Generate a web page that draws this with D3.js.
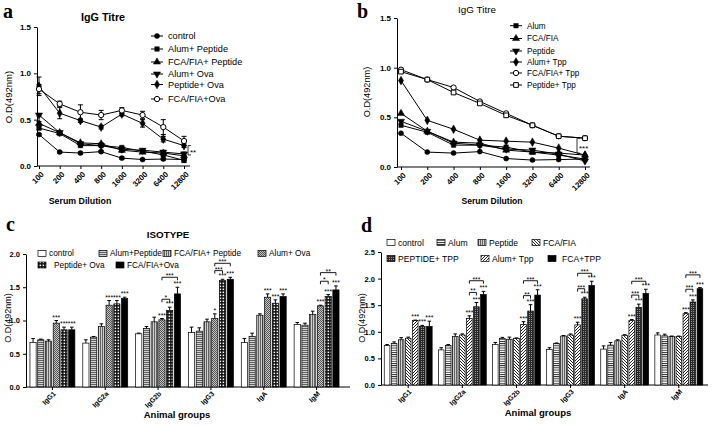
<!DOCTYPE html>
<html><head><meta charset="utf-8">
<script src="https://cdn.jsdelivr.net/npm/d3@7"></script>
<style>body{margin:0;background:#fff} svg text{font-family:"Liberation Sans",Arial,sans-serif}</style>
</head><body><svg id="c" width="713" height="425"></svg>
<script>
// ---------- DATA ----------
const dilutions = ["100","200","400","800","1600","3200","6400","12800"];
const yTicksLine = [0, 0.5, 1.0, 1.5];

// panel a
const aNames = ["control","Alum+ Peptide","FCA/FIA+ Peptide","Alum+ Ova","Peptide+ Ova","FCA/FIA+Ova"];
const aControl      = [0.34,0.15,0.14,0.155,0.085,0.07,0.075,0.07];
const aAlumPeptide  = [0.41,0.35,0.22,0.22,0.20,0.16,0.12,0.06];
const aFcaPeptide   = [0.46,0.36,0.25,0.24,0.17,0.15,0.14,0.11];
const aAlumOva      = [0.55,0.36,0.24,0.22,0.18,0.17,0.15,0.13];
const aPeptideOva   = [0.86,0.57,0.49,0.42,0.56,0.46,0.29,0.22];
const aFcaOva       = [0.83,0.67,0.58,0.55,0.60,0.55,0.42,0.27];
const aControlErr     = [0.01,0.01,0.01,0.01,0.01,0.01,0.01,0.01];
const aAlumPeptideErr = [0.02,0.01,0.01,0.01,0.01,0.01,0.01,0.02];
const aFcaPeptideErr  = [0.02,0.01,0.01,0.01,0.02,0.01,0.01,0.02];
const aAlumOvaErr     = [0.01,0.01,0.01,0.01,0.01,0.01,0.01,0.02];
const aPeptideOvaErr  = [0.10,0.06,0.02,0.02,0.02,0.04,0.03,0.02];
const aFcaOvaErr      = [0.05,0.03,0.08,0.05,0.03,0.04,0.08,0.05];

// panel b
const bNames = ["Alum","FCA/FIA","Peptide","Alum+ Tpp","FCA/FIA+ Tpp","Peptide+ Tpp"];
const bControl    = [0.34,0.15,0.14,0.155,0.085,0.07,0.075,0.08];
const bAlum       = [0.42,0.35,0.22,0.22,0.20,0.15,0.12,0.08];
const bFca        = [0.54,0.36,0.25,0.24,0.17,0.15,0.14,0.12];
const bPeptide    = [0.46,0.36,0.24,0.22,0.18,0.17,0.13,0.06];
const bAlumTpp    = [0.87,0.47,0.38,0.27,0.26,0.25,0.19,0.12];
const bFcaTpp     = [0.98,0.88,0.80,0.66,0.54,0.42,0.31,0.29];
const bPeptideTpp = [0.96,0.88,0.75,0.64,0.52,0.42,0.31,0.29];

// panels c and d
const isotypes = ["IgG1","IgG2a","IgG2b","IgG3","IgA","IgM"];
const cNames = ["control","Alum+Peptide","FCA/FIA+ Peptide","Alum+ Ova","Peptide+ Ova","FCA/FIA+Ova"];
const cControl     = [0.67,0.66,0.80,0.82,0.67,0.94];
const cAlumPeptide = [0.71,0.75,0.88,0.84,0.76,0.93];
const cFcaPeptide  = [0.69,0.91,0.98,0.98,1.08,1.09];
const cAlumOva     = [0.96,1.23,1.01,1.03,1.35,1.22];
const cPeptideOva  = [0.86,1.25,1.15,1.60,1.26,1.36];
const cFcaOva      = [0.86,1.33,1.40,1.62,1.36,1.46];
const cControlErr     = [0.06,0.05,0.01,0.08,0.06,0.03];
const cAlumPeptideErr = [0.01,0.01,0.03,0.05,0.05,0.03];
const cFcaPeptideErr  = [0.02,0.04,0.07,0.04,0.02,0.05];
const cAlumOvaErr     = [0.04,0.07,0.02,0.07,0.05,0.01];
const cPeptideOvaErr  = [0.04,0.05,0.05,0.02,0.05,0.03];
const cFcaOvaErr      = [0.04,0.02,0.10,0.03,0.04,0.06];
const cAlumOvaStars    = ["***","***","***","*","***","***"];
const cPeptideOvaStars = ["***","***","***","***","***","***"];
const cFcaOvaStars     = ["***","***","***","***","***","***"];
const cBrackets = [
  {g:"IgG2b", from:3, to:5, v:1.65, t:"***"}, {g:"IgG2b", from:3, to:4, v:1.32, t:"*"},
  {g:"IgG3",  from:3, to:5, v:1.86, t:"***"}, {g:"IgG3",  from:3, to:4, v:1.75, t:"***"},
  {g:"IgM",   from:3, to:5, v:1.72, t:"**"},  {g:"IgM",   from:3, to:4, v:1.59, t:"*"}
];

const dNames = ["control","Alum","Peptide","FCA/FIA","Alum+ Tpp","PEPTIDE+ TPP","FCA+TPP"];
const dControl    = [0.74,0.66,0.76,0.67,0.675,0.94];
const dAlum       = [0.78,0.74,0.875,0.78,0.75,0.925];
const dPeptide    = [0.85,0.91,0.86,0.92,0.83,0.91];
const dFca        = [0.88,0.94,0.875,0.94,0.935,0.91];
const dAlumTpp    = [1.21,1.25,1.14,1.13,1.21,1.34];
const dPeptideTpp = [1.10,1.47,1.39,1.62,1.46,1.56];
const dFcaTpp     = [1.10,1.70,1.69,1.87,1.72,1.81];
const dControlErr    = [0.02,0.04,0.04,0.03,0.06,0.04];
const dAlumErr       = [0.03,0.02,0.02,0.01,0.05,0.03];
const dPeptideErr    = [0.04,0.05,0.04,0.01,0.02,0.01];
const dFcaErr        = [0.02,0.02,0.01,0.02,0.01,0.01];
const dAlumTppErr    = [0.01,0.05,0.05,0.05,0.02,0.02];
const dPeptideTppErr = [0.02,0.08,0.12,0.03,0.06,0.04];
const dFcaTppErr     = [0.10,0.06,0.10,0.08,0.08,0.02];
const dStars = ["***","***","***","***","***","***"];
const dBrackets = [
  {g:"IgG2a", from:4, to:5, v:1.74, t:"**"},  {g:"IgG2a", from:4, to:6, v:1.96, t:"***"},
  {g:"IgG2b", from:4, to:5, v:1.68, t:"**"},  {g:"IgG2b", from:4, to:6, v:1.96, t:"***"},
  {g:"IgG3",  from:4, to:5, v:1.81, t:"***"}, {g:"IgG3",  from:4, to:6, v:2.10, t:"***"},
  {g:"IgA",   from:4, to:5, v:1.69, t:"***"}, {g:"IgA",   from:4, to:6, v:1.95, t:"***"},
  {g:"IgM",   from:4, to:5, v:1.80, t:"***"}, {g:"IgM",   from:4, to:6, v:2.07, t:"***"}
];

// ---------- DRAW ----------
const svg = d3.select("#c");
const defs = svg.append("defs");
function pat(id, w, h, bg, draw) {
  const p = defs.append("pattern").attr("id", id).attr("patternUnits","userSpaceOnUse")
    .attr("width", w).attr("height", h);
  p.append("rect").attr("width", w).attr("height", h).attr("fill", bg);
  draw(p);
}
pat("hGray", 4, 2, "#cfcfcf", p => p.append("rect").attr("width",4).attr("height",0.9).attr("fill","#555"));
pat("vGray", 2, 4, "#cfcfcf", p => p.append("rect").attr("width",0.9).attr("height",4).attr("fill","#555"));
pat("dots", 2, 2, "#c4c4c4", p => { p.append("rect").attr("width",1).attr("height",1).attr("fill","#555");
  p.append("rect").attr("x",1).attr("y",1).attr("width",1).attr("height",1).attr("fill","#555"); });
pat("checker", 3, 3, "#111", p => p.append("rect").attr("x",0.6).attr("y",0.6).attr("width",1.5).attr("height",1.5).attr("fill","#fff"));
pat("hLine", 4, 2.2, "#fff", p => p.append("rect").attr("width",4).attr("height",0.9).attr("fill","#222"));
pat("diagB", 3, 3, "#fff", p => p.append("path").attr("d","M0,0L3,3M-1,2L1,4M2,-1L4,1").attr("stroke","#111").attr("stroke-width",0.9));
pat("diagF", 3, 3, "#fff", p => p.append("path").attr("d","M0,3L3,0M-1,1L1,-1M2,4L4,2").attr("stroke","#111").attr("stroke-width",0.9));
pat("grid", 2, 2, "#2a2a2a", p => p.append("rect").attr("x",1).attr("y",1).attr("width",0.8).attr("height",0.8).attr("fill","#d0d0d0"));

function styleAxis(g, size) {
  g.attr("font-family", '"Liberation Sans",Arial,sans-serif').attr("font-size", size).attr("font-weight", "bold");
  g.selectAll("line").attr("stroke", "#000").attr("stroke-width", 1);
  g.selectAll("path").attr("stroke", "#000").attr("stroke-width", 1);
}
function label(x, y, t, o = {}) {
  const e = svg.append("text").attr("x", x).attr("y", y).text(t)
    .attr("font-size", o.size || 9).attr("font-weight", o.bold ? "bold" : "normal")
    .attr("text-anchor", o.anchor || "start").attr("fill", "#000");
  if (o.family) e.style("font-family", o.family);
  if (o.rotate) e.attr("transform", `rotate(${o.rotate},${x},${y})`);
  return e;
}

const symDefs = {
  circle:  {t: d3.symbolCircle, s: 20, rot: 0, open: false},
  square:  {t: d3.symbolSquare, s: 20, rot: 0, open: false},
  triUp:   {t: d3.symbolTriangle, s: 22, rot: 0, open: false},
  triDown: {t: d3.symbolTriangle, s: 22, rot: 180, open: false},
  diamond: {t: d3.symbolDiamond, s: 22, rot: 0, open: false},
  oCircle: {t: d3.symbolCircle, s: 22, rot: 0, open: true},
  oSquare: {t: d3.symbolSquare, s: 22, rot: 0, open: true}
};
function drawMarker(g, kind, x, y) {
  const s = symDefs[kind];
  g.append("path").attr("d", d3.symbol().type(s.t).size(s.s)())
    .attr("transform", `translate(${x},${y}) rotate(${s.rot})`)
    .attr("fill", s.open ? "#fff" : "#000").attr("stroke", "#000").attr("stroke-width", s.open ? 1 : 0.5);
}

function linePanel(o) {
  const x = d3.scalePoint().domain(dilutions).range([o.px0, o.px1]);
  const y = d3.scaleLinear().domain([0, 1.5]).range([o.yb, o.yt]);
  const g = svg.append("g");
  const ya = g.append("g").attr("transform", `translate(${o.ax},0)`)
    .call(d3.axisLeft(y).tickValues(yTicksLine).tickFormat(d3.format(".1f")).tickSize(3).tickSizeOuter(0));
  styleAxis(ya, 8);
  const xa = g.append("g").attr("transform", `translate(0,${o.yb})`)
    .call(d3.axisBottom(x).tickSize(3).tickSizeOuter(0));
  styleAxis(xa, 7.8);
  xa.select(".domain").remove();
  xa.append("line").attr("x1", o.ax).attr("x2", o.axEnd).attr("stroke", "#000");
  xa.selectAll(".tick text").attr("y", 0).attr("dy", "0.35em").attr("text-anchor", "end")
    .attr("transform", "translate(3,7) rotate(-45)");
  o.series.forEach(s => {
    const pts = dilutions.map((d, i) => [x(d), y(s.values[i])]);
    g.append("path").attr("d", d3.line()(pts)).attr("fill", "none").attr("stroke", "#000").attr("stroke-width", 1);
    if (s.err) dilutions.forEach((d, i) => {
      const cx = x(d), e = s.err[i];
      if (!e) return;
      const y1 = y(s.values[i] + e), y2 = y(s.values[i] - e);
      g.append("path").attr("d", `M${cx},${y1}V${y2}M${cx-2.5},${y1}H${cx+2.5}M${cx-2.5},${y2}H${cx+2.5}`)
        .attr("stroke", "#000").attr("stroke-width", 1).attr("fill", "none");
    });
  });
  o.series.forEach(s => dilutions.forEach((d, i) => drawMarker(g, s.kind, x(d), y(s.values[i]))));
  o.legend.forEach((s, i) => {
    const ly = o.legRows[i];
    g.append("line").attr("x1", o.legX - 6).attr("x2", o.legX + 6).attr("y1", ly).attr("y2", ly).attr("stroke", "#000");
    drawMarker(g, s.kind, o.legX, ly);
    g.append("text").attr("x", o.legX + 11).attr("y", ly).attr("dy", "0.35em").text(s.name)
      .attr("font-size", o.legSize).attr("fill", "#000");
  });
  const bx = o.brX, by1 = y(o.br[0]), by2 = y(o.br[1]);
  g.append("path").attr("d", `M${bx+3},${by1}H${bx}V${by2}H${bx+3}`).attr("fill", "none").attr("stroke", "#000").attr("stroke-width", 0.8);
  g.append("text").attr("x", bx + 2).attr("y", (by1 + by2) / 2 + 5).text(o.br[2]).attr("font-size", 8).attr("fill", "#000");
  return {x, y};
}

linePanel({
  px0: 39, px1: 184, ax: 37, axEnd: 190, yb: 166, yt: 27,
  series: [
    {values: aControl, err: aControlErr, kind: "circle"},
    {values: aAlumPeptide, err: aAlumPeptideErr, kind: "square"},
    {values: aFcaPeptide, err: aFcaPeptideErr, kind: "triUp"},
    {values: aAlumOva, err: aAlumOvaErr, kind: "triDown"},
    {values: aPeptideOva, err: aPeptideOvaErr, kind: "diamond"},
    {values: aFcaOva, err: aFcaOvaErr, kind: "oCircle"}
  ],
  legend: aNames.map((n, i) => ({name: n, kind: ["circle","square","triUp","triDown","diamond","oCircle"][i]})),
  legX: 157, legRows: [36, 49, 62, 74, 84.5, 99], legSize: 9.2,
  brX: 188, br: [0.22, 0.12, "**"]
});
linePanel({
  px0: 401, px1: 585, ax: 397, axEnd: 590, yb: 167, yt: 18,
  series: [
    {values: bControl, kind: "circle"},
    {values: bAlum, kind: "square"},
    {values: bFca, kind: "triUp"},
    {values: bPeptide, kind: "triDown"},
    {values: bAlumTpp, kind: "diamond"},
    {values: bFcaTpp, kind: "oCircle"},
    {values: bPeptideTpp, kind: "oSquare"}
  ],
  legend: bNames.map((n, i) => ({name: n, kind: ["square","triUp","triDown","diamond","oCircle","oSquare"][i]})),
  legX: 516, legRows: [25.7, 38.5, 51, 62, 73, 85], legSize: 8.2,
  brX: 577, br: [0.29, 0.14, "***"]
});

const serif = '"Liberation Serif","Times New Roman",serif';
label(3, 18, "a", {size: 20, bold: true, family: serif});
label(357, 18, "b", {size: 20, bold: true, family: serif});
label(103, 20.5, "IgG Titre", {size: 10.8, bold: true, anchor: "middle"});
label(477, 13, "IgG Titre", {size: 9.9, anchor: "middle"});
label(80, 204, "Serum Dilution", {size: 8.8, bold: true, anchor: "middle"});
label(492, 204, "Serum Dilution", {size: 8.6, bold: true, anchor: "middle"});
label(11.5, 97, "O.D(492nm)", {size: 9.5, anchor: "middle", rotate: -90});
label(370, 92, "O.D(492nm)", {size: 9.2, anchor: "middle", rotate: -90});

function barPanel(o) {
  const x = d3.scaleBand().domain(isotypes).range([o.ax, o.xEnd]).paddingInner(o.pi).paddingOuter(o.po);
  const xi = d3.scaleBand().domain(d3.range(o.series.length)).range([0, x.bandwidth()]).paddingInner(0.2);
  const y = d3.scaleLinear().domain([0, o.yMax]).range([o.yb, o.yt]);
  const g = svg.append("g");
  const ya = g.append("g").attr("transform", `translate(${o.ax},0)`)
    .call(d3.axisLeft(y).tickValues(o.yTicks).tickFormat(d3.format(".1f")).tickSize(3).tickSizeOuter(0));
  styleAxis(ya, 7.5);
  const xa = g.append("g").attr("transform", `translate(0,${o.yb})`)
    .call(d3.axisBottom(x).tickSize(3).tickSizeOuter(0));
  styleAxis(xa, 7);
  xa.select(".domain").remove();
  xa.append("line").attr("x1", o.ax).attr("x2", o.axEnd).attr("stroke", "#000");
  xa.selectAll(".tick text").attr("y", 0).attr("dy", "0.35em").attr("text-anchor", "end")
    .attr("transform", "translate(2,5.5) rotate(-45)");
  const cx = (gname, i) => x(gname) + xi(i) + xi.bandwidth() / 2;
  o.series.forEach((s, si) => {
    isotypes.forEach((iso, gi) => {
      const v = s.values[gi], e = s.err[gi];
      const bx = x(iso) + xi(si);
      g.append("rect").attr("x", bx).attr("y", y(v)).attr("width", xi.bandwidth()).attr("height", y(0) - y(v))
        .attr("fill", s.fill).attr("stroke", "#000").attr("stroke-width", 0.7);
      const c = cx(iso, si), yt = y(v + e);
      g.append("path").attr("d", `M${c},${y(v)}V${yt}M${c-1.8},${yt}H${c+1.8}`).attr("stroke", "#000").attr("stroke-width", 1).attr("fill", "none");
      if (s.stars) g.append("text").attr("x", c).attr("y", yt - 1).text(s.stars[gi]).attr("text-anchor", "middle")
        .attr("font-size", 6.8).attr("fill", "#000");
    });
  });
  o.brackets.forEach(b => {
    const x1 = cx(b.g, b.from), x2 = cx(b.g, b.to), yy = y(b.v);
    g.append("path").attr("d", `M${x1},${yy+3}V${yy}H${x2}V${yy+3}`).attr("fill", "none").attr("stroke", "#000").attr("stroke-width", 0.9);
    g.append("text").attr("x", (x1 + x2) / 2).attr("y", yy + 1).text(b.t).attr("text-anchor", "middle")
      .attr("font-size", 6.8).attr("fill", "#000");
  });
  o.legend.forEach(l => {
    const s = o.series[l.i];
    g.append("rect").attr("x", l.x).attr("y", l.y - 3).attr("width", 8).attr("height", 6)
      .attr("fill", s.fill).attr("stroke", "#000").attr("stroke-width", 0.7);
    g.append("text").attr("x", l.x + (l.tx || 11)).attr("y", l.y).attr("dy", "0.35em").text(s.name)
      .attr("font-size", o.legSize).attr("fill", "#000");
  });
}

barPanel({
  ax: 26, xEnd: 343, axEnd: 350, pi: 0.15, po: 0.075, yb: 387, yt: 254, yMax: 2.0,
  yTicks: [0, 0.5, 1.0, 1.5, 2.0],
  series: [
    {name: cNames[0], values: cControl, err: cControlErr, fill: "#fff"},
    {name: cNames[1], values: cAlumPeptide, err: cAlumPeptideErr, fill: "url(#hGray)"},
    {name: cNames[2], values: cFcaPeptide, err: cFcaPeptideErr, fill: "url(#vGray)"},
    {name: cNames[3], values: cAlumOva, err: cAlumOvaErr, fill: "url(#dots)", stars: cAlumOvaStars},
    {name: cNames[4], values: cPeptideOva, err: cPeptideOvaErr, fill: "url(#checker)", stars: cPeptideOvaStars},
    {name: cNames[5], values: cFcaOva, err: cFcaOvaErr, fill: "#000", stars: cFcaOvaStars}
  ],
  brackets: cBrackets,
  legSize: 8.3,
  legend: [
    {i: 0, x: 38, y: 253.5}, {i: 1, x: 99, y: 253.5}, {i: 2, x: 163, y: 253.5}, {i: 3, x: 258, y: 253.5},
    {i: 4, x: 38, y: 265, tx: 16}, {i: 5, x: 116, y: 265}
  ]
});
barPanel({
  ax: 381, xEnd: 706, axEnd: 708, pi: 0.115, po: 0.06, yb: 385, yt: 252, yMax: 2.5,
  yTicks: [0, 0.5, 1.0, 1.5, 2.0, 2.5],
  series: [
    {name: dNames[0], values: dControl, err: dControlErr, fill: "#fff"},
    {name: dNames[1], values: dAlum, err: dAlumErr, fill: "url(#hLine)"},
    {name: dNames[2], values: dPeptide, err: dPeptideErr, fill: "url(#vGray)"},
    {name: dNames[3], values: dFca, err: dFcaErr, fill: "url(#diagB)"},
    {name: dNames[4], values: dAlumTpp, err: dAlumTppErr, fill: "url(#diagF)", stars: dStars},
    {name: dNames[5], values: dPeptideTpp, err: dPeptideTppErr, fill: "url(#grid)", stars: dStars},
    {name: dNames[6], values: dFcaTpp, err: dFcaTppErr, fill: "#000", stars: dStars}
  ],
  brackets: dBrackets,
  legSize: 8.6,
  legend: [
    {i: 0, x: 387, y: 242.5}, {i: 1, x: 437, y: 242.5}, {i: 2, x: 478, y: 242.5}, {i: 3, x: 532, y: 242.5},
    {i: 5, x: 387, y: 258.5}, {i: 4, x: 481, y: 258.5}, {i: 6, x: 548, y: 258.5, tx: 14}
  ]
});

label(6, 231, "c", {size: 20, bold: true, family: serif});
label(361, 232, "d", {size: 20, bold: true, family: serif});
label(168, 238, "ISOTYPE", {size: 9.8, bold: true, anchor: "middle"});
label(177, 418, "Animal groups", {size: 9.5, bold: true, anchor: "middle"});
label(538, 416, "Animal groups", {size: 9.5, bold: true, anchor: "middle"});
label(11, 318, "O.D(492nm)", {size: 9, anchor: "middle", rotate: -90});
label(365, 318, "O.D(492nm)", {size: 9, anchor: "middle", rotate: -90});
</script></body></html>
